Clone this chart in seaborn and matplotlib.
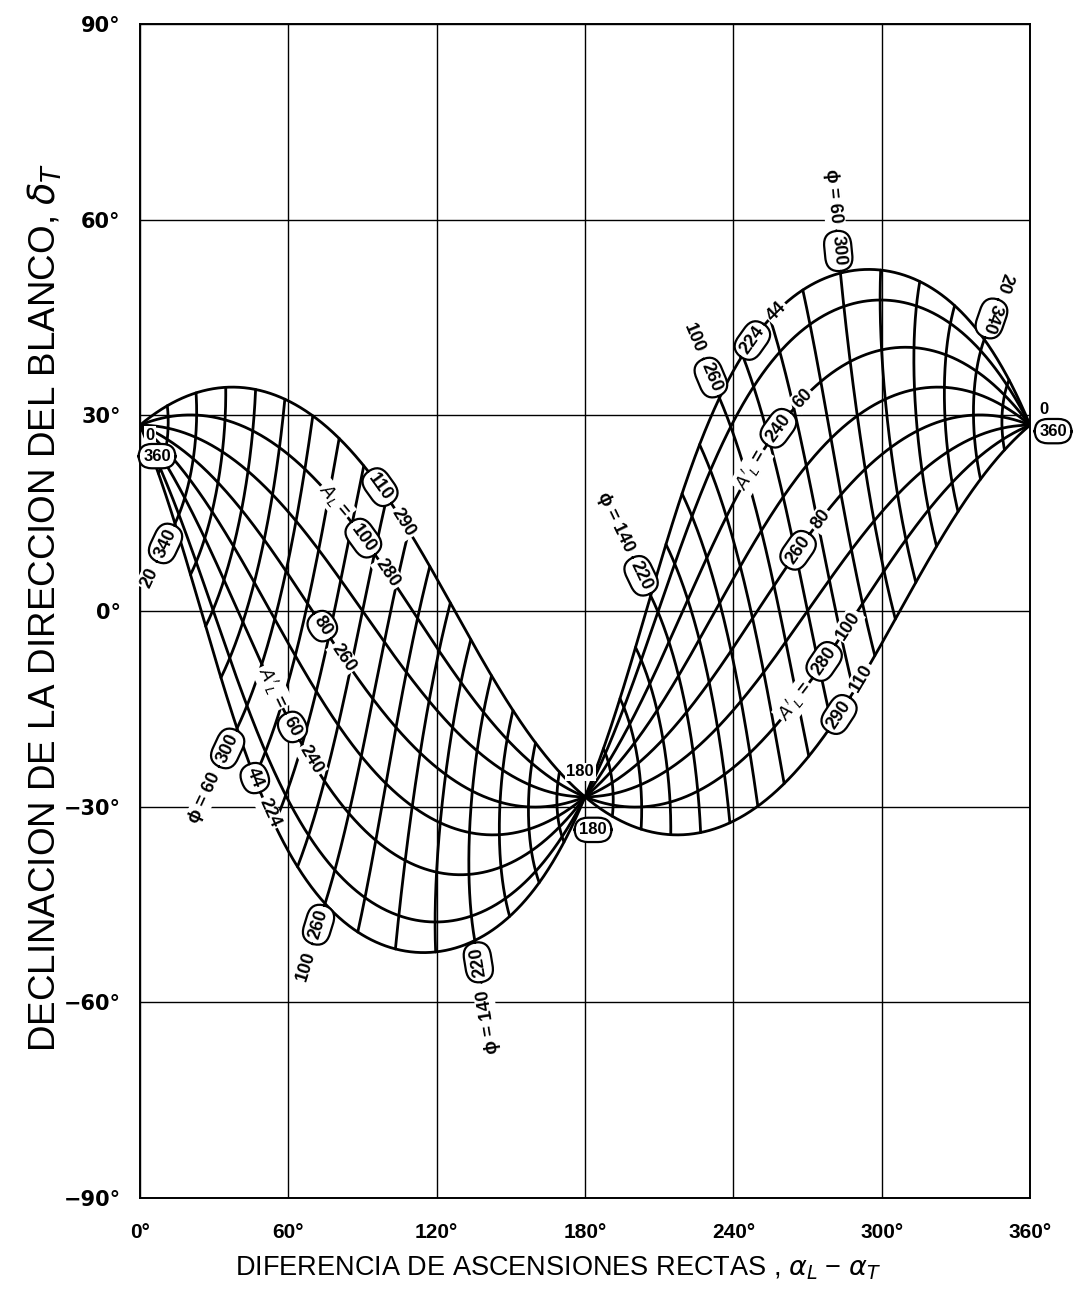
import numpy as np
import pandas as pd
import matplotlib
matplotlib.use("Agg")
import matplotlib.pyplot as plt
import seaborn as sns

# ---------------------------------------------------------------------------
# Nomogram data: launch-site declination, launch azimuths and range angles
# ---------------------------------------------------------------------------
LAUNCH_DEC = 28.5                                    # deg
AZ_WEST = [224, 230, 240, 250, 260, 270, 280, 290]   # A'_L, westward lobe
AZ_EAST = [44, 50, 60, 70, 80, 90, 100, 110]         # A'_L, eastward lobe
RANGE_ANGLES = [10, 20, 30, 40, 50, 60, 70, 80, 90,
                100, 110, 120, 130, 140, 150, 160, 170]  # phi, deg

X_TICKS = [0, 60, 120, 180, 240, 300, 360]
X_TICK_LABELS = ["0°", "60°", "120°", "180°", "240°", "300°", "360°"]
Y_TICKS = [-90, -60, -30, 0, 30, 60, 90]
Y_TICK_LABELS = ["−90°", "−60°", "−30°", "0°", "30°", "60°", "90°"]

# azimuth-curve labels: lobe, azimuth, range angle at the label, text pieces
AZ_LABELS = [
    ("W", 290, 92, [("110", True), ("290", False)]),
    ("W", 280, 84, [("$A_L$ =", False), ("100", True), ("280", False)]),
    ("W", 260, 82, [("80", True), ("260", False)]),
    ("W", 240, 74, [("$A'_L$ =", False), ("60", True), ("240", False)]),
    ("W", 224, 74, [("44", True), ("224", False)]),
    ("E", 44, 83, [("224", True), ("44", False)]),
    ("E", 60, 89, [("$A'_L$ =", False), ("240", True), ("60", False)]),
    ("E", 80, 85, [("260", True), ("80", False)]),
    ("E", 100, 89.5, [("$A'_L$ =", False), ("280", True), ("100", False)]),
    ("E", 110, 82, [("290", True), ("110", False)]),
]

# range-angle labels, written past the outer envelope of each lobe
RANGE_LABELS = [
    ("W", 20, [("20", False), ("340", True)]),
    ("W", 60, [("ϕ = 60", False), ("300", True)]),
    ("W", 100, [("100", False), ("260", True)]),
    ("W", 140, [("ϕ = 140", False), ("220", True)]),
    ("E", 20, [("20", False), ("340", True)]),
    ("E", 60, [("ϕ = 60", False), ("300", True)]),
    ("E", 100, [("100", False), ("260", True)]),
    ("E", 140, [("ϕ = 140", False), ("220", True)]),
]

# labels at the three nodes: node (dalpha, dec), pixel offset, text, circled
NODE_LABELS = [
    ((0, LAUNCH_DEC), (10, -10), "0", False),
    ((0, LAUNCH_DEC), (17, -31), "360", True),
    ((360, LAUNCH_DEC), (14, 16), "0", False),
    ((360, LAUNCH_DEC), (23, -6), "360", True),
    ((180, -LAUNCH_DEC), (-5, 25), "180", False),
    ((180, -LAUNCH_DEC), (8, -33), "180", True),
]


def ground_point(az, phi, lobe):
    """Point reached along the great circle leaving the launch site with
    azimuth az after a range angle phi: right-ascension difference and
    declination."""
    dl = np.radians(LAUNCH_DEC)
    a, p = np.broadcast_arrays(np.radians(np.asarray(az, float)),
                               np.radians(np.asarray(phi, float)))
    x = np.cos(p) * np.cos(dl) - np.sin(p) * np.cos(a) * np.sin(dl)
    y = np.sin(p) * np.sin(a)
    z = np.cos(p) * np.sin(dl) + np.sin(p) * np.cos(a) * np.cos(dl)
    lon = np.degrees(np.arctan2(y, x))
    dalpha = 360.0 - lon if lobe == "E" else -lon
    dec = np.degrees(np.arcsin(np.clip(z, -1.0, 1.0)))
    return dalpha, dec


# long table of every curve of the grid
frames = []
phi_fine = np.linspace(0, 180, 721)
for lobe, azs in (("W", AZ_WEST), ("E", AZ_EAST)):
    for az in azs:
        xa, ya = ground_point(az, phi_fine, lobe)
        frames.append(pd.DataFrame({"curve": f"A{lobe}{az}", "dalpha": xa, "dec": ya}))
    az_fine = np.linspace(min(azs), max(azs), 240)
    for ph in RANGE_ANGLES:
        xa, ya = ground_point(az_fine, ph, lobe)
        frames.append(pd.DataFrame({"curve": f"P{lobe}{ph}", "dalpha": xa, "dec": ya}))
grid = pd.concat(frames, ignore_index=True)

sns.set_theme(style="white")
plt.rcParams["font.family"] = ["Liberation Sans", "DejaVu Sans"]
plt.rcParams["mathtext.fontset"] = "dejavusans"

fig = plt.figure(figsize=(10.73, 13.0), dpi=100)
ax = fig.add_axes([0.1305, 0.0785, 0.8295, 0.903])

sns.lineplot(data=grid, x="dalpha", y="dec", units="curve", estimator=None,
             sort=False, color="black", linewidth=2.0, legend=False, ax=ax,
             zorder=3)

ax.set_xlim(0, 360)
ax.set_ylim(-90, 90)
ax.set_xlabel("")
ax.set_ylabel("")
ax.set_xticks(X_TICKS)
ax.set_xticklabels(X_TICK_LABELS, fontsize=15, fontweight="bold",
                   family=["Liberation Sans", "DejaVu Sans"])
ax.set_yticks(Y_TICKS)
ax.set_yticklabels(Y_TICK_LABELS, fontsize=15, fontweight="bold",
                   family=["DejaVu Sans"])
ax.tick_params(axis="x", length=0, pad=18, colors="black")
ax.tick_params(axis="y", length=0, pad=14, colors="black")
ax.grid(True, color="black", linewidth=1.0)
ax.set_axisbelow(True)
for sp in ax.spines.values():
    sp.set_color("black")
    sp.set_linewidth(1.4)

fig.text(558 / 1073, 1 - 1268 / 1300,
         r"DIFERENCIA DE ASCENSIONES RECTAS , $\alpha_L$ − $\alpha_T$",
         ha="center", va="center", fontsize=19.5, color="black")
fig.text(45 / 1073, 1 - 607 / 1300,
         r"DECLINACION DE LA DIRECCION DEL BLANCO, $\delta_T$",
         ha="center", va="center", rotation=90, fontsize=26.5, color="black")

# ---------------------------------------------------------------------------
# curve labels
# ---------------------------------------------------------------------------
NUM = dict(fontsize=13, fontweight="bold", color="black",
           family=["Liberation Sans", "DejaVu Sans"])
CIRC_PAD, PLAIN_PAD, GAP = 0.28, 0.10, 6.0
CIRC_BOX = dict(boxstyle=f"round,pad={CIRC_PAD},rounding_size=0.8",
                fc="white", ec="black", lw=1.6)
PLAIN_BOX = dict(boxstyle=f"square,pad={PLAIN_PAD}", fc="white", ec="none")

renderer = fig.canvas.get_renderer()
to_disp = ax.transData.transform
to_data = ax.transData.inverted().transform


def piece_sizes(pieces):
    sizes = []
    for txt, circ in pieces:
        t = ax.text(0, 0, txt, **NUM)
        w = t.get_window_extent(renderer).width
        t.remove()
        pad = (CIRC_PAD if circ else PLAIN_PAD) * NUM["fontsize"] * fig.dpi / 72
        sizes.append(w + 2 * pad)
    return sizes


def draw_piece(px, py, angle, txt, circ):
    xd, yd = to_data((px, py))
    ax.text(xd, yd, txt, rotation=angle, rotation_mode="anchor",
            ha="center", va="center", bbox=CIRC_BOX if circ else PLAIN_BOX,
            zorder=6, clip_on=False, **NUM)


def label_along_curve(lobe, az, phi_c, pieces):
    phi = np.linspace(0, 180, 3601)
    xa, ya = ground_point(az, phi, lobe)
    P = to_disp(np.column_stack([xa, ya]))
    s = np.concatenate([[0.0], np.cumsum(np.hypot(np.diff(P[:, 0]), np.diff(P[:, 1])))])
    sc = np.interp(phi_c, phi, s)
    sign = 1.0 if lobe == "W" else -1.0
    sizes = piece_sizes(pieces)
    total = sum(sizes) + GAP * (len(sizes) - 1)
    offset = -total / 2
    for (txt, circ), w in zip(pieces, sizes):
        sm = sc + sign * (offset + w / 2)
        offset += w + GAP
        px, py = np.interp(sm, s, P[:, 0]), np.interp(sm, s, P[:, 1])
        qa = np.array([np.interp(sm - 3, s, P[:, 0]), np.interp(sm - 3, s, P[:, 1])])
        qb = np.array([np.interp(sm + 3, s, P[:, 0]), np.interp(sm + 3, s, P[:, 1])])
        v = (qb - qa) * sign
        draw_piece(px, py, np.degrees(np.arctan2(v[1], v[0])), txt, circ)


def label_past_envelope(lobe, phi_val, pieces, lead=2.0):
    a_end = min(AZ_WEST) if lobe == "W" else min(AZ_EAST)
    x0, y0 = ground_point(a_end, phi_val, lobe)
    x1, y1 = ground_point(a_end + 1.5, phi_val, lobe)
    E = to_disp([[float(x0), float(y0)]])[0]
    Q = to_disp([[float(x1), float(y1)]])[0]
    u = (E - Q) / np.hypot(*(E - Q))
    ang = np.degrees(np.arctan2(-u[1], -u[0]))
    sizes = piece_sizes(pieces)
    dist = lead
    for (txt, circ), w in reversed(list(zip(pieces, sizes))):
        c = E + u * (dist + w / 2)
        dist += w + GAP
        draw_piece(c[0], c[1], ang, txt, circ)


for lobe, az, ph, pieces in AZ_LABELS:
    label_along_curve(lobe, az, ph, pieces)
for lobe, ph, pieces in RANGE_LABELS:
    label_past_envelope(lobe, ph, pieces)
for node, off, txt, circ in NODE_LABELS:
    ax.annotate(txt, xy=node, xytext=off, textcoords="offset pixels",
                ha="center", va="center", zorder=6, annotation_clip=False,
                bbox=CIRC_BOX if circ else PLAIN_BOX,
                **{**NUM, "fontsize": 12})

fig.savefig("out.png", dpi=100, facecolor="white")
